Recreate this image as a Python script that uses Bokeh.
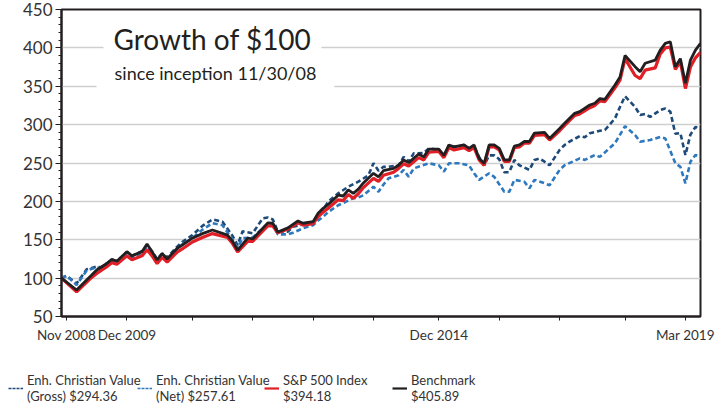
from bokeh.plotting import figure
from bokeh.models import (Range1d, FixedTicker, SingleIntervalTicker, Label, Legend, LegendItem)
from bokeh.embed import file_html
from bokeh.resources import INLINE

# ---------------- data (month index 0 = Nov 2008) ----------------
bench_m = [0, 3, 6, 7, 9, 10, 11, 13, 14, 16, 17, 18, 19, 20, 21, 23, 24, 26, 28, 30,
           33, 34, 35, 37, 38, 41, 42, 43, 45, 47, 48, 50, 51, 52, 53, 55, 56, 57, 58, 59,
           60, 62, 63, 64, 66, 67, 68, 69, 71, 72, 73, 75, 76, 77, 78, 80, 81, 82, 83, 84,
           85, 86, 87, 88, 89, 90, 91, 92, 93, 94, 96, 97, 99, 100, 102, 103, 105, 106, 107, 108,
           110, 111, 112, 114, 115, 116, 118, 119, 120, 121, 122, 123, 124, 125, 126, 127]
bench_v = [100, 84.5, 104, 110.6, 119, 124.5, 122, 134.5, 129, 134.5, 144.5, 134.5, 123.6, 132, 125, 139, 143, 152, 158, 162.7,
           156, 148, 136.6, 152, 151, 172, 171.5, 160, 165.5, 174.5, 171.5, 173.5, 184.5, 191, 196, 208, 207, 215, 210.5, 216,
           224, 236.6, 232, 240, 243, 247, 254, 250.5, 261.7, 258, 268, 268, 260, 273.5, 271, 273.5, 269, 273.5, 256, 249.6,
           273.5, 273.5, 269, 254, 254, 272, 273.5, 278, 278, 289, 290, 282, 295, 301.7, 314.7, 317, 325.6, 327.8, 334, 333,
           351.6, 362, 390, 375.5, 369, 380, 384, 397, 405.9, 408, 375.5, 386, 354, 384, 397, 405.89]

sp_m = bench_m
sp_v = [100, 82, 101, 106, 115, 120, 118, 129, 124, 129, 137, 129, 119, 127, 121, 134, 138, 147, 153, 158,
        153, 145, 134, 148, 148, 168, 168, 159, 164, 172, 169, 171, 180, 186, 191, 202, 201, 209, 204, 210,
        218, 230, 226, 234, 238, 243, 249, 246, 257, 254, 264, 265, 257, 270, 267, 270, 266, 270, 254, 247,
        271, 271, 267, 252, 252, 270, 271, 276, 276, 286, 287, 280, 292, 299, 312, 314, 322, 325, 331, 330,
        348, 358, 386, 364, 360, 371, 374, 392, 400, 401, 372, 382, 347, 375, 387, 394.18]

gross_m = [0, 1, 3, 5, 7, 8, 10, 11, 13, 14, 16, 17, 18, 19, 20, 21, 23, 24, 26, 28,
           30, 32, 34, 35, 36, 38, 40, 41, 42, 43, 45, 46, 48, 50, 51, 52, 53, 55, 57, 59,
           61, 62, 63, 64, 65, 67, 68, 69, 70, 72, 73, 75, 76, 77, 78, 80, 81, 82, 83, 84,
           85, 86, 87, 88, 89, 90, 91, 93, 94, 95, 96, 97, 99, 100, 101, 103, 104, 105, 107, 108,
           110, 111, 112, 114, 115, 116, 117, 119, 120, 121, 122, 123, 124, 125, 126, 127]
gross_v = [100, 103, 93, 111.5, 115, 114, 124, 122, 134, 129, 135, 143, 135, 125, 132, 127, 141, 147, 156, 168,
           176.5, 173.5, 155, 143, 161, 158.5, 178, 179, 176.5, 160.5, 160.5, 167, 170, 173.5, 182, 189, 199.6, 210.5, 219, 225.7,
           234, 249.6, 240, 245, 245, 247, 258, 252, 262.6, 263, 269, 267, 258, 273, 271, 273.5, 269, 271, 258, 247,
           260, 260, 255, 238, 238, 254, 247, 241, 254, 256, 251.7, 247, 267, 273.5, 278, 285, 283.5, 288.7, 292, 293,
           308, 323, 337, 323, 312.5, 314, 310, 319, 321, 317, 288, 289, 260.4, 287, 297, 294.36]

net_m = [0, 1, 3, 5, 7, 8, 10, 11, 13, 14, 16, 17, 18, 19, 20, 21, 23, 24, 26, 28,
         30, 32, 34, 35, 36, 38, 40, 41, 42, 43, 45, 46, 48, 50, 51, 52, 53, 55, 57, 58,
         59, 60, 62, 63, 64, 65, 67, 68, 69, 70, 73, 75, 76, 77, 79, 81, 82, 83, 85, 86,
         88, 89, 90, 92, 93, 94, 96, 97, 99, 100, 103, 104, 106, 107, 110, 112, 114, 115, 117, 119,
         120, 122, 123, 124, 125, 126, 127]
net_v = [100, 103, 91, 110, 114, 113, 123, 121, 133, 127, 133, 141, 133, 123, 130, 124, 138, 144, 152, 163,
         171.5, 169, 150, 140, 152, 153, 165, 170, 169, 157, 157, 159, 165, 169, 175, 180, 186, 195, 201, 204,
         205, 208, 219, 212.6, 222, 230, 234, 241, 232, 243, 249.6, 247, 238.7, 249.6, 249.6, 247, 236.6, 228, 236.6, 232,
         212.6, 212.6, 228, 225.6, 217, 228, 223.6, 221, 241, 247, 256, 254, 260.4, 258, 275.7, 298, 286.5, 277.8, 280, 284,
         282, 249.6, 245, 223.6, 251.7, 260.4, 257.61]

tick_months = [1, 13, 26, 38, 50, 62, 75, 87, 99, 112, 124]
tick_labels = ["Nov 2008", "Dec 2009", "", "", "", "", "Dec 2014", "", "", "", "Mar 2019"]

legend_labels = ["Enh. Christian Value\n(Gross) $294.36",
                 "Enh. Christian Value\n(Net) $257.61",
                 "S&P 500 Index\n$394.18",
                 "Benchmark\n$405.89"]

title_text = "Growth of $100"
subtitle_text = "since inception 11/30/08"

# ---------------- styling ----------------
FONT = "Lato"
TXT = "#333333"
C_GROSS = "#1d4a78"
C_NET = "#2e78be"
C_SP = "#e01f26"
C_BENCH = "#231f20"
DASH = "5 3"

p = figure(frame_width=639, frame_height=307, output_backend="svg", toolbar_location=None,
           x_range=Range1d(0, 127), y_range=Range1d(50, 450),
           min_border_left=61, min_border_right=16, min_border_top=9, min_border_bottom=31)
p.background_fill_color = "white"
p.border_fill_color = "white"
p.outline_line_color = C_BENCH
p.outline_line_width = 2

p.line(gross_m, gross_v, line_color=C_GROSS, line_width=2.6, line_dash=DASH)
p.line(net_m, net_v, line_color=C_NET, line_width=2.6, line_dash=DASH)
p.line(sp_m, sp_v, line_color=C_SP, line_width=3.2)
p.line(bench_m, bench_v, line_color=C_BENCH, line_width=2.8)

# axes
p.xgrid.visible = False
p.ygrid.grid_line_color = "#cfcfcf"
p.ygrid.grid_line_width = 1.5
p.yaxis.ticker = SingleIntervalTicker(interval=50, num_minor_ticks=5)
p.ygrid.ticker = SingleIntervalTicker(interval=50)
p.xaxis.ticker = FixedTicker(ticks=tick_months)
p.xaxis.major_label_overrides = {m: t for m, t in zip(tick_months, tick_labels)}

for ax in (p.xaxis[0], p.yaxis[0]):
    ax.axis_line_color = C_BENCH
    ax.axis_line_width = 2
    ax.major_tick_line_color = C_BENCH
    ax.minor_tick_line_color = C_BENCH
    ax.major_tick_in = 0
    ax.minor_tick_in = 0
    ax.major_label_text_font = FONT
    ax.major_label_text_color = TXT

p.yaxis.major_tick_out = 6
p.yaxis.minor_tick_out = 3
p.yaxis.major_label_text_font_size = "17px"
p.yaxis.major_label_standoff = 3
p.xaxis.major_tick_out = 4
p.xaxis.minor_tick_out = 0
p.xaxis.major_label_text_font_size = "13.5px"
p.xaxis.major_label_standoff = 6

# title boxes
p.add_layout(Label(x=30.0, y=411.5, text=title_text, text_align="center", text_baseline="middle",
                   text_font=FONT, text_font_size="28px", text_color="#231f20",
                   background_fill_color="white",
                   padding=dict(left=10, right=10, top=3, bottom=3)))
p.add_layout(Label(x=30.6, y=367, text=subtitle_text, text_align="center", text_baseline="middle",
                   text_font=FONT, text_font_size="18px", text_color="#231f20",
                   background_fill_color="white",
                   padding=dict(left=18, right=18, top=5, bottom=5)))

# ---------------- legend strip below (separate root, not aligned) ----------------
p2 = figure(width=716, height=64, output_backend="svg", toolbar_location=None,
            x_range=Range1d(0, 1), y_range=Range1d(0, 1),
            x_axis_type=None, y_axis_type=None, min_border=0)
p2.grid.visible = False
p2.outline_line_color = None
p2.background_fill_color = "white"
p2.border_fill_color = "white"

styles = [dict(line_color=C_GROSS, line_width=1.6, line_dash="3 1"),
          dict(line_color=C_NET, line_width=1.6, line_dash="3 1"),
          dict(line_color=C_SP, line_width=2.2),
          dict(line_color=C_BENCH, line_width=2.2)]
legend_x = [8, 137, 264, 392]
for st, lab, lx in zip(styles, legend_labels, legend_x):
    # legend-only renderer, its points lie outside the visible range
    r = p2.line([-2, -1], [-2, -2], **st)
    lg = Legend(items=[LegendItem(label=lab, renderers=[r])], location=(lx, 0),
                orientation="horizontal", padding=0, margin=0, spacing=0,
                glyph_width=15, glyph_height=46, label_standoff=4, label_height=46,
                border_line_color=None, background_fill_alpha=0,
                label_text_font=FONT, label_text_font_size="13px",
                label_text_color=TXT, label_text_line_height=1.85)
    p2.add_layout(lg, "center")

html = file_html([p, p2], INLINE)
open("out.html", "w").write(html)
